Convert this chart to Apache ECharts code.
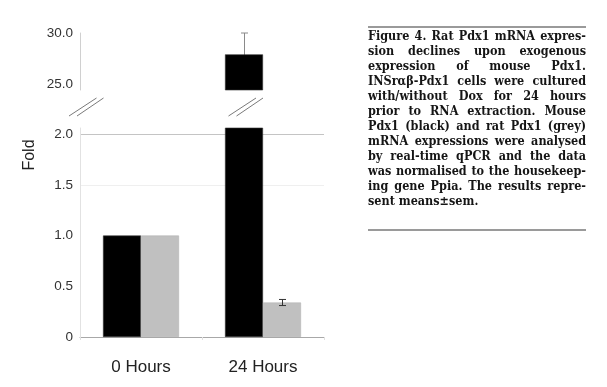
<!DOCTYPE html>
<html>
<head>
<meta charset="utf-8">
<script src="https://cdn.jsdelivr.net/npm/echarts@6/dist/echarts.min.js"></script>
<style>
  html, body { margin: 0; padding: 0; background: #fff; }
  #chart { position: absolute; left: 0; top: 0; width: 607px; height: 387px; }
  #caption {
    position: absolute; left: 368px; top: 26px; width: 218px;
    border-top: 2px solid #9a9a9a; border-bottom: 2px solid #9a9a9a;
    padding: 0 0 21px 0;
    font-family: "DejaVu Serif Condensed", "DejaVu Serif", serif; font-weight: bold;
    font-size: 12.5px; line-height: 15px; color: #151515;
  }
  #caption div { text-align: justify; text-align-last: justify; white-space: nowrap; }
  #caption div.last { text-align: left; text-align-last: left; }
</style>
</head>
<body>
<div id="chart"></div>
<div id="caption"></div>
<script>
// ---- data ----
const categories = ['0 Hours', '24 Hours'];
const mousePdx1 = [1.0, 27.9];      // black bars
const ratPdx1 = [1.0, 0.34];        // grey bars
const mouseSem = [0, 2.1];
const ratSem = [0, 0.03];
const upperTicks = [25, 30];
const lowerTicks = [0, 0.5, 1.0, 1.5, 2.0];
const yAxisName = 'Fold';
const captionLines = [
  'Figure 4. Rat Pdx1 mRNA expres-',
  'sion declines upon exogenous',
  'expression of mouse Pdx1.',
  'INSrαβ-Pdx1 cells were cultured',
  'with/without Dox for 24 hours',
  'prior to RNA extraction. Mouse',
  'Pdx1 (black) and rat Pdx1 (grey)',
  'mRNA expressions were analysed',
  'by real-time qPCR and the data',
  'was normalised to the housekeep-',
  'ing gene Ppia. The results repre-',
  'sent means±sem.'
];

// ---- caption ----
const cap = document.getElementById('caption');
captionLines.forEach((t, i) => {
  const d = document.createElement('div');
  d.textContent = t;
  if (i === captionLines.length - 1) d.className = 'last';
  cap.appendChild(d);
});

// ---- chart ----
const BAR_W = 38;
const GRID_LEFT = 80, GRID_W = 244;
const G0_TOP = 33, G0_H = 57;
const G1_TOP = 128, G1_H = 209;
const FONT = '"Liberation Sans", Arial, sans-serif';

const chart = echarts.init(document.getElementById('chart'), null, { renderer: 'canvas' });

function fmt(v) { return v === 0 ? '0' : v.toFixed(1); }

function errRender(sign, color) {
  return function (params, api) {
    const i = api.value(0), mean = api.value(1), sem = api.value(2);
    if (!sem) return;
    const cs = params.coordSys;
    const m = api.coord([i, mean]);
    if (m[1] < cs.y - 1 || m[1] > cs.y + cs.height + 1) return;
    const hi = api.coord([i, mean + sem]);
    const lo = api.coord([i, mean - sem]);
    const x = Math.round(m[0] + sign * BAR_W / 2) + 0.5;
    const cw = 3.5;
    const st = { stroke: color, lineWidth: 1 };
    return {
      type: 'group',
      children: [
        { type: 'line', shape: { x1: x, y1: hi[1], x2: x, y2: lo[1] }, style: st },
        { type: 'line', shape: { x1: x - cw, y1: hi[1], x2: x + cw, y2: hi[1] }, style: st },
        { type: 'line', shape: { x1: x - cw, y1: lo[1], x2: x + cw, y2: lo[1] }, style: st }
      ]
    };
  };
}

const xAxisBase = {
  type: 'category', data: categories,
  axisLabel: { show: false }, axisTick: { show: false }, axisLine: { show: false }
};

const series = [];
[0, 1].forEach(g => {
  series.push({
    type: 'bar', xAxisIndex: g, yAxisIndex: g, data: mousePdx1,
    barWidth: BAR_W, barGap: '0%', z: 3,
    itemStyle: { color: '#000', borderColor: '#333', borderWidth: 0.6 }
  });
  series.push({
    type: 'bar', xAxisIndex: g, yAxisIndex: g, data: ratPdx1,
    barWidth: BAR_W, barGap: '0%', z: 3,
    itemStyle: { color: '#c0c0c0', borderColor: '#b4b4b4', borderWidth: 0.6 }
  });
  series.push({
    type: 'custom', xAxisIndex: g, yAxisIndex: g, z: 2,
    data: categories.map((c, i) => [i, mousePdx1[i], mouseSem[i]]),
    encode: { x: 0, y: 1 },
    renderItem: errRender(-1, '#8a8a8a')
  });
  series.push({
    type: 'custom', xAxisIndex: g, yAxisIndex: g, z: 4,
    data: categories.map((c, i) => [i, ratPdx1[i], ratSem[i]]),
    encode: { x: 0, y: 1 },
    renderItem: errRender(1, '#333')
  });
});

const option = {
  animation: false,
  backgroundColor: '#fff',
  grid: [
    { left: GRID_LEFT, width: GRID_W, top: G0_TOP, height: G0_H },
    { left: GRID_LEFT, width: GRID_W, top: G1_TOP, height: G1_H }
  ],
  xAxis: [
    Object.assign({ gridIndex: 0 }, xAxisBase),
    {
      gridIndex: 1, type: 'category', data: categories,
      axisLine: { show: true, lineStyle: { color: '#a8a8a8', width: 1 } },
      axisTick: { show: true, length: 3, lineStyle: { color: '#e0e0e0' } },
      axisLabel: { margin: 22, fontSize: 17, color: '#222', fontFamily: FONT }
    }
  ],
  yAxis: [
    {
      gridIndex: 0, type: 'value', min: 24.4, max: 30,
      axisLine: { show: true, lineStyle: { color: '#d0d0d0' } },
      axisTick: { show: false, customValues: upperTicks },
      splitLine: { show: false },
      axisLabel: { customValues: upperTicks, formatter: fmt, margin: 7, fontSize: 13.5, color: '#333', fontFamily: FONT }
    },
    {
      gridIndex: 1, type: 'value', min: 0, max: 2.06,
      axisLine: { show: true, lineStyle: { color: '#e2e2e2' } },
      axisTick: { show: false, customValues: lowerTicks },
      splitLine: { show: true, lineStyle: { color: ['rgba(0,0,0,0)', 'rgba(0,0,0,0)', 'rgba(0,0,0,0)', '#efefef', '#c4c4c4'], width: 1 } },
      axisLabel: { customValues: lowerTicks, formatter: fmt, margin: 7, fontSize: 13.5, color: '#333', fontFamily: FONT }
    }
  ],
  series: series,
  graphic: [
    {
      type: 'text', x: 30, y: 155, rotation: Math.PI / 2,
      style: { text: yAxisName, font: '16px ' + FONT, fill: '#222', align: 'center', verticalAlign: 'middle' }
    }
  ]
};
chart.setOption(option);

// axis-break marks
const barCx = chart.convertToPixel({ xAxisIndex: 1 }, 1) - BAR_W / 2;
const leftCx = GRID_LEFT + 6;
const yb = G0_TOP + G0_H + 26, yt = G0_TOP + G0_H + 8;
function slashes(cx) {
  return [
    { type: 'line', shape: { x1: cx - 17, y1: yb, x2: cx + 10.5, y2: yt }, style: { stroke: '#7a7a7a', lineWidth: 1 }, z: 10 },
    { type: 'line', shape: { x1: cx - 9, y1: yb, x2: cx + 17.5, y2: yt }, style: { stroke: '#7a7a7a', lineWidth: 1 }, z: 10 }
  ];
}
chart.setOption({ graphic: option.graphic.concat(slashes(leftCx), slashes(barCx + 1.5)) });
</script>
</body>
</html>
